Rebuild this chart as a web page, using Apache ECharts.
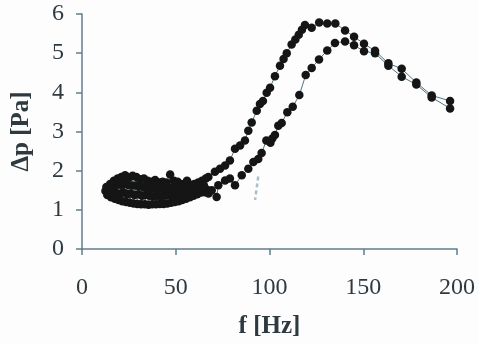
<!DOCTYPE html>
<html>
<head>
<meta charset="utf-8">
<script src="https://cdn.jsdelivr.net/npm/echarts@6/dist/echarts.min.js"></script>
<style>
html,body{margin:0;padding:0;background:#fdfdfe;}
#chart{width:479px;height:344px;}
</style>
</head>
<body>
<div id="chart"></div>
<script>
// Series A (upper curve, peak ~5.8 near 127 Hz)
var freqA = [13,14,15,16,17,18,19,20,21,22,23,24,25,26,27,28,29,30,31,32,33,34,35,36,37,38,39,40,41,42,43,44,45,46,47,48,49,50,51,52,53,54,55,56,57,58,59,60,61,62,63,64,65,66,
  67.4,70.9,73.6,76.3,78.9,81.6,84.3,86.9,88.7,90.5,93.2,94.9,96.5,98.5,100.3,102.9,105.6,107.5,109.2,111.8,113.8,115.6,117.3,118.9,122.5,126.5,130.8,135.1,140.3,145.1,150.4,156.3,163.4,170.5,178.3,186.5,196.3];
var dpA = [1.58,1.45,1.66,1.42,1.74,1.44,1.80,1.40,1.84,1.45,1.88,1.40,1.82,1.42,1.87,1.38,1.84,1.40,1.78,1.36,1.80,1.38,1.74,1.36,1.72,1.35,1.76,1.36,1.70,1.35,1.72,1.36,1.70,1.38,1.90,1.38,1.74,1.40,1.72,1.42,1.66,1.42,1.64,1.74,1.45,1.64,1.48,1.66,1.50,1.70,1.55,1.74,1.62,1.80,
  1.84,1.97,2.05,2.13,2.26,2.56,2.64,2.77,3.02,3.23,3.53,3.70,3.78,3.99,4.12,4.41,4.68,4.85,5.00,5.22,5.35,5.47,5.60,5.72,5.65,5.78,5.76,5.76,5.58,5.42,5.24,5.06,4.74,4.60,4.25,3.92,3.78];

// Series B (lower curve, peak ~5.3 near 140 Hz)
var freqB = [12.5,13.5,14.5,15.5,16.5,17.5,18.5,19.5,20.5,21.5,22.5,23.5,24.5,25.5,26.5,27.5,28.5,29.5,30.5,31.5,32.5,33.5,34.5,35.5,36.5,37.5,38.5,39.5,40.5,41.5,42.5,43.5,44.5,45.5,46.5,47.5,48.5,49.5,50.5,51.5,52.5,53.5,54.5,55.5,56.5,57.5,58.5,59.5,60.5,61.5,62.5,63.5,64.5,65.5,66.5,67.5,
  69.2,71.8,72.7,76.3,78.9,81.6,85.2,88.7,91.4,94.0,95.8,98.3,100.5,101.5,102.9,104.7,106.5,109.5,112.4,115.9,119.3,122.5,126.4,130.8,134.9,140.3,145.1,150.4,156.3,163.4,170.5,178.3,186.5,196.3];
var dpB = [1.48,1.38,1.58,1.32,1.62,1.28,1.64,1.25,1.64,1.22,1.66,1.20,1.64,1.18,1.62,1.16,1.62,1.15,1.60,1.14,1.58,1.14,1.56,1.13,1.56,1.14,1.55,1.14,1.54,1.15,1.55,1.15,1.54,1.16,1.56,1.18,1.58,1.20,1.58,1.22,1.56,1.25,1.55,1.28,1.56,1.32,1.55,1.36,1.58,1.40,1.55,1.44,1.58,1.45,1.52,1.42,
  1.50,1.33,1.63,1.75,1.80,1.63,1.88,2.05,2.22,2.30,2.45,2.77,2.71,2.82,2.91,3.15,3.22,3.49,3.63,3.93,4.44,4.62,4.84,5.07,5.26,5.30,5.20,5.05,5.00,4.68,4.40,4.20,3.87,3.59];

// faint grey trace near 92 Hz
var freqC = [94.0, 92.3];
var dpC = [1.85, 1.25];

var xTicks = [0, 50, 100, 150, 200];
var yTicks = [0, 1, 2, 3, 4, 5, 6];

function pairs(xs, ys){ return xs.map(function(x,i){ return [x, ys[i]]; }); }

var axisCol = '#5f7d8c';
var txtCol = '#2f3a40';
var serif = 'Times New Roman, Liberation Serif, serif';

var chart = echarts.init(document.getElementById('chart'));
chart.setOption({
  backgroundColor: '#fdfdfe',
  animation: false,
  grid: {left: 82, right: 22, top: 14, bottom: 93},
  xAxis: {
    type: 'value', min: xTicks[0], max: xTicks[xTicks.length-1], interval: 50,
    name: 'f [Hz]', nameLocation: 'middle', nameGap: 65,
    nameTextStyle: {fontFamily: serif, fontWeight: 'bold', fontSize: 25, color: txtCol},
    axisLine: {lineStyle: {color: axisCol, width: 1.5}},
    axisTick: {show: true, inside: false, length: 6, lineStyle: {color: axisCol, width: 1.5}},
    axisLabel: {fontFamily: serif, fontSize: 24, color: txtCol, margin: 27},
    splitLine: {show: false}
  },
  yAxis: {
    type: 'value', min: yTicks[0], max: yTicks[yTicks.length-1], interval: 1,
    name: 'Δp [Pa]', nameLocation: 'middle', nameGap: 48,
    nameTextStyle: {fontFamily: serif, fontWeight: 'bold', fontSize: 25, color: txtCol},
    axisLine: {show: true, lineStyle: {color: axisCol, width: 1.5}},
    axisTick: {show: true, inside: false, length: 6, lineStyle: {color: axisCol, width: 1.5}},
    axisLabel: {fontFamily: serif, fontSize: 24, color: txtCol, margin: 18},
    splitLine: {show: false}
  },
  series: [
    {
      type: 'line', data: pairs(freqC, dpC), symbol: 'none',
      lineStyle: {color: '#a9bfcc', width: 2.5, type: [4, 3]}, z: 1
    },
    {
      type: 'line', data: pairs(freqB, dpB), symbol: 'circle', symbolSize: 8.5,
      itemStyle: {color: '#151515'},
      lineStyle: {color: '#4f7585', width: 1}
    },
    {
      type: 'line', data: pairs(freqA, dpA), symbol: 'circle', symbolSize: 8.5,
      itemStyle: {color: '#151515'},
      lineStyle: {color: '#4f7585', width: 1}
    }
  ]
});
</script>
</body>
</html>
